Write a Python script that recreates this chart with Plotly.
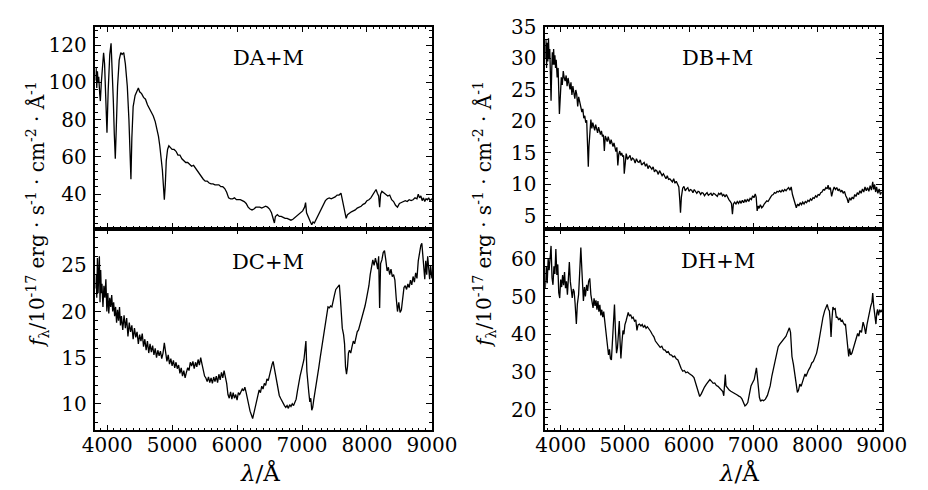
import plotly.graph_objects as go

# ---------------- data ----------------
da_wl = [3820,3830,3840,3850,3860,3870,3885,3895,3910,3930,3945,3960,3980,3997,4015,4040,4060,4075,4095,4110,
         4125,4140,4160,4185,4210,4230,4255,4280,4310,4335,4355,4366,4380,4400,4430,4460,4480,4500,4530,4560,
         4590,4620,4650,4680,4710,4740,4770,4790,4810,4830,4850,4865,4880,4895,4910,4930,4950,4975,5000,5030,
         5060,5090,5120,5150,5180,5210,5240,5270,5300,5330,5360,5390,5420,5450,5480,5510,5540,5570,5600,5630,
         5660,5690,5720,5750,5780,5810,5840,5870,5900,5930,5960,5990,6020,6050,6080,6110,6140,6170,6200,6230,
         6260,6290,6320,6350,6380,6410,6440,6470,6500,6530,6560,6575,6590,6620,6650,6680,6710,6740,6770,6800,
         6830,6860,6890,6920,6950,6980,7010,7040,7055,7070,7090,7110,7130,7150,7170,7190,7210,7240,7270,7300,
         7330,7360,7390,7420,7450,7480,7510,7540,7570,7600,7620,7640,7660,7680,7700,7730,7760,7790,7820,7850,
         7880,7910,7940,7970,8000,8030,8060,8090,8120,8140,8160,8180,8195,8210,8230,8260,8290,8320,8350,8380,
         8410,8440,8470,8500,8530,8560,8590,8620,8650,8680,8710,8740,8770,8790,8810,8830,8850,8870,8890,8910,
         8930,8950,8970,9000]
da_fl = [101,108,97,106,100,103,94,90,100,112,116,110,88,73,95,115,121,110,90,72,
         59,75,98,112,116,115,116,110,98,80,60,48,70,87,93,96,97,95,94,92,
         91,88,86,84,82,79,75,71,66,60,53,45,37,45,58,64,66,65,64,64,
         63,61,61,59,58,57,57,56,55,55.5,54,52,51,49.5,48,47,47,46,45.5,45.5,
         45,45,45,44,44,43,41,38,37.5,37.5,38,37,37,37,36.5,36,35,33,32,31.5,
         32,33,33,33,32.5,33,33.5,33,32,30,27,24.5,28,29,28,28,27.5,27,27,26.5,
         26,26.5,27.5,28.5,29,30,31,33,35.5,30,28,27,25,23.5,25,24.5,26,28,30,32,
         34.5,36.5,37.5,38,37.5,38,38.5,39.5,39.5,40.5,37,33,30,27,29,30,30.5,31,31.5,32.5,
         33,33.5,34.5,35,36.5,37,38,39.5,41,42.5,40.5,39,33,40,41.5,40.5,40,39,39.5,37,
         36,34,33,35,35.5,36,36.5,36,37,36.5,37,38,37.5,40,38,39,36.5,38,36,37.5,
         37,38,36.5,37.5]

dc_wl = [3820,3830,3840,3850,3860,3870,3880,3890,3900,3910,3920,3935,3950,3965,3980,3995,4010,4025,4040,4055,
         4070,4085,4100,4115,4130,4145,4160,4175,4190,4205,4220,4240,4260,4280,4300,4320,4340,4360,4380,4400,
         4420,4440,4460,4480,4500,4520,4540,4560,4580,4600,4620,4640,4660,4680,4700,4720,4740,4760,4780,4800,
         4820,4840,4860,4880,4900,4920,4940,4960,4980,5000,5020,5040,5060,5080,5100,5120,5140,5160,5180,5200,
         5220,5240,5260,5280,5300,5320,5340,5360,5380,5400,5420,5440,5460,5480,5500,5520,5540,5560,5580,5600,
         5620,5640,5660,5680,5700,5720,5740,5760,5780,5800,5820,5840,5860,5880,5900,5920,5940,5960,5980,6000,
         6020,6040,6060,6080,6100,6120,6140,6160,6180,6200,6220,6240,6260,6280,6300,6320,6340,6360,6380,6400,
         6420,6440,6460,6480,6500,6520,6540,6555,6570,6590,6610,6630,6650,6670,6690,6710,6730,6750,6770,6790,
         6810,6830,6850,6870,6890,6910,6930,6950,6970,6990,7010,7030,7045,7060,7075,7090,7105,7120,7135,7150,
         7165,7180,7200,7220,7240,7260,7280,7300,7320,7340,7360,7380,7400,7420,7440,7460,7480,7500,7520,7540,
         7560,7575,7590,7605,7620,7640,7655,7670,7685,7700,7715,7730,7750,7770,7790,7810,7830,7850,7870,7890,
         7910,7930,7950,7970,7990,8010,8030,8050,8070,8090,8110,8130,8150,8165,8180,8195,8210,8230,8250,8270,
         8290,8310,8330,8350,8370,8390,8410,8430,8450,8470,8490,8510,8530,8550,8570,8590,8610,8630,8650,8670,
         8690,8710,8730,8750,8770,8790,8810,8830,8845,8860,8875,8890,8905,8920,8935,8950,8965,8980,9000]
dc_fl = [22.5,24,21.5,25.8,22,23.5,26,21,24.5,22,23,20.5,22.8,21.5,23.5,20,22,19.8,21.5,20.5,
         21.8,20,21,19.5,20.5,18.8,20.2,19,20.5,18.5,19.5,18,19.6,18.2,19.3,17.3,18.8,17.8,18.5,17,
         18.2,17.2,17.8,16.5,17.5,16.8,17.6,16.2,17,15.8,16.8,15.5,16.5,15.6,16.3,15.3,16.0,15.0,15.8,15.2,
         15.7,14.9,15.5,16.6,15.2,14.6,15.3,14.3,14.9,14.1,14.7,13.9,14.5,13.8,14.2,13.3,13.9,13.0,13.6,12.8,
         13.4,13.9,13.6,14.5,14.1,14.6,13.8,14.5,14.0,14.8,14.2,15.0,14.3,13.5,13.0,12.8,12.4,12.9,12.3,12.8,
         12.2,12.9,12.4,13.0,12.3,13.2,12.6,13.4,12.8,13.6,13.0,12.2,11.0,10.6,11.3,10.5,11.2,10.6,11.0,10.4,
         11.2,11.0,11.3,11.6,11.4,11.8,11.2,10.4,10.0,9.2,8.8,8.4,9.0,9.6,10.3,10.8,11.5,11.2,11.9,11.6,
         12.2,12.0,12.7,12.5,13.2,13.6,14.3,14.6,14.0,13.0,12.2,11.4,10.9,10.6,10.3,10.0,9.8,9.6,9.8,9.5,
         9.9,9.7,10.0,9.8,10.1,10.5,11.4,12.4,13.0,13.6,14.2,14.8,15.8,16.8,13.5,11.8,11.2,10.2,10.6,9.3,
         9.6,10.4,11.2,12.0,13.0,14.0,15.0,16.0,17.0,18.0,19.0,19.8,20.5,20.4,20.6,20.5,21.0,21.8,22.4,22.6,
         22.8,22.9,21.5,19.0,18.2,17.5,16.5,14.0,13.2,14.0,15.5,15.8,15.5,16.2,16.8,16.5,17.4,17.8,18.0,18.5,
         19.0,19.5,20.0,20.6,21.3,22.0,22.8,24.0,25.0,25.6,25.0,25.8,25.2,24.6,26.0,20.4,25.2,25.6,26.4,26.6,
         25.6,24.4,24.8,24.0,24.6,23.8,24.0,23.4,21.5,20.0,21.0,19.9,20.2,21.8,22.6,22.8,22.4,23.0,22.6,23.4,
         22.9,23.8,23.2,24.2,23.6,25.5,26.5,27.2,27.4,26.0,24.2,23.5,25.5,24.0,26.0,24.2,23.5,25.0,23.6]

db_wl = [3760,3770,3780,3790,3800,3810,3820,3830,3840,3850,3860,3870,3880,3890,3900,3910,3920,3930,3945,3960,
         3980,3995,4010,4025,4040,4055,4070,4085,4100,4115,4130,4145,4160,4175,4190,4205,4220,4235,4250,4265,
         4280,4295,4310,4330,4345,4360,4375,4390,4405,4420,4430,4440,4455,4470,4485,4500,4515,4530,4545,4560,
         4575,4590,4605,4620,4635,4650,4665,4680,4695,4710,4725,4740,4755,4770,4785,4800,4815,4830,4845,4860,
         4875,4890,4905,4920,4935,4950,4965,4980,4990,5005,5020,5040,5060,5080,5100,5120,5140,5160,5180,5200,
         5220,5240,5260,5280,5300,5320,5340,5360,5380,5400,5420,5440,5460,5480,5500,5520,5540,5560,5580,5600,
         5620,5640,5660,5680,5700,5720,5740,5760,5780,5800,5820,5840,5855,5866,5880,5900,5920,5940,5960,5980,
         6000,6020,6040,6060,6080,6100,6120,6140,6160,6180,6200,6220,6240,6260,6280,6300,6320,6340,6360,6380,
         6400,6420,6440,6460,6480,6500,6520,6540,6560,6580,6600,6620,6640,6660,6675,6690,6710,6730,6750,6770,
         6790,6810,6830,6850,6870,6890,6910,6930,6950,6970,6990,7010,7030,7045,7060,7075,7090,7110,7130,7150,
         7170,7190,7210,7230,7250,7270,7290,7310,7330,7350,7370,7390,7410,7430,7450,7470,7490,7510,7530,7550,
         7570,7590,7610,7630,7650,7670,7690,7710,7730,7750,7770,7790,7810,7830,7850,7870,7890,7910,7930,7950,
         7970,7990,8010,8030,8050,8070,8090,8110,8130,8150,8165,8180,8200,8220,8240,8260,8280,8300,8320,8340,
         8360,8380,8400,8420,8440,8460,8480,8500,8520,8540,8560,8580,8600,8620,8640,8660,8680,8700,8720,8740,
         8760,8780,8800,8820,8840,8860,8875,8890,8905,8920,8940,8960,8980,9000]
db_fl = [30,33,28.5,32.5,29.5,33.2,30,31.5,27.5,23.3,28,31,29,31.5,29,30.5,28.5,29.8,27,28.5,
         21.2,25,27,25.8,28.0,26.9,26.4,27.3,25.6,26.9,26.0,25.1,26.2,24.2,25.6,24.8,23.6,25.0,24.3,22.4,
         23.9,23.2,22.6,21.5,22,20.5,20.9,19.8,20.2,16.5,12.8,16,19.3,20.3,18.9,19.8,19.2,18.6,19.5,18.9,
         18.2,19.1,18.4,17.9,18.5,17.6,17.9,15.3,17.7,17.2,16.8,17.6,16.9,16.4,17.1,16.3,16.0,16.6,15.8,15.2,
         15.9,13.0,14.8,15.3,14.6,15.0,14.5,14.6,11.7,14.3,14.9,14.0,14.4,14.6,13.8,14.2,14.0,13.4,14.1,13.6,
         13.5,13.9,13.1,13.4,13.5,12.9,13.3,12.5,13.0,12.7,12.4,12.8,12.0,12.3,12.1,11.6,12.2,11.8,11.4,11.7,
         11.3,10.9,11.4,10.8,10.9,10.6,10.4,10.9,10.2,10.5,10.1,9.6,7.5,5.5,8.0,9.4,9.7,9.0,9.3,9.5,
         8.9,9.2,9.1,8.7,9.2,8.9,8.6,8.9,8.8,8.4,8.7,8.6,8.2,8.5,8.7,8.3,8.4,8.6,8.2,8.6,
         8.5,8.3,8.1,8.6,8.4,8.7,8.2,8.4,8.0,8.4,7.9,7.6,7.3,7.0,5.3,6.9,7.2,6.9,7.3,7.0,
         7.4,7.0,7.5,7.1,7.6,7.2,7.7,7.3,7.8,7.6,8.2,7.9,8.5,8.0,5.8,6.6,6.2,6.8,6.3,6.5,
         6.9,7.1,7.4,7.3,7.8,8.0,8.3,8.4,8.7,8.6,8.9,8.8,9.0,8.8,9.1,8.9,9.2,9.0,9.3,9.5,
         9.1,9.6,8.4,7.6,7.0,6.3,6.9,6.6,7.1,6.8,7.2,6.9,7.3,7.1,7.5,7.3,7.7,7.5,7.9,7.8,
         8.2,8.0,8.4,8.3,8.7,8.8,9.2,9.1,9.5,9.3,9.9,9.2,9.5,8.1,9.0,9.6,9.2,9.5,9.0,9.3,
         8.8,9.1,8.6,8.9,8.2,7.8,7.1,7.9,7.5,8.0,7.7,8.4,8.1,8.7,8.4,9.0,8.6,9.3,8.8,9.6,
         9.0,9.5,8.9,9.8,9.1,10.4,9.2,10.0,8.8,9.6,8.6,9.3,8.4,8.8]

dh_wl = [3760,3775,3790,3805,3820,3835,3850,3865,3880,3895,3910,3925,3940,3955,3970,3985,4000,4015,4030,4045,
         4060,4075,4090,4105,4120,4135,4150,4165,4180,4195,4210,4225,4244,4260,4279,4295,4314,4330,4345,4354,
         4370,4385,4404,4420,4435,4453,4470,4485,4504,4520,4535,4550,4565,4580,4595,4610,4625,4640,4655,4670,
         4685,4700,4715,4730,4745,4760,4775,4790,4805,4820,4838,4855,4870,4885,4900,4913,4925,4938,4955,4970,
         4985,5000,5018,5035,5052,5070,5090,5110,5128,5150,5170,5188,5205,5227,5250,5270,5290,5310,5330,5350,
         5377,5400,5425,5452,5475,5500,5526,5550,5575,5600,5626,5650,5675,5700,5726,5750,5775,5800,5826,5850,
         5875,5901,5925,5950,5975,6001,6025,6050,6076,6095,6115,6140,6165,6190,6210,6240,6270,6300,6324,6350,
         6375,6399,6425,6450,6475,6500,6525,6540,6555,6564,6575,6600,6625,6650,6675,6700,6725,6750,6775,6800,
         6825,6850,6870,6890,6914,6940,6964,6990,7014,7035,7049,7065,7080,7095,7114,7135,7160,7189,7220,7245,
         7263,7290,7315,7338,7360,7388,7410,7435,7463,7490,7510,7523,7545,7562,7580,7602,7625,7652,7670,7687,
         7705,7725,7745,7762,7785,7805,7820,7837,7860,7885,7911,7935,7960,7986,8010,8035,8061,8085,8111,8130,
         8151,8170,8185,8198,8211,8225,8240,8258,8275,8293,8311,8330,8350,8366,8386,8405,8420,8435,8450,8470,
         8486,8500,8518,8536,8560,8585,8605,8625,8645,8660,8685,8710,8730,8750,8770,8790,8810,8830,8848,8860,
         8875,8893,8910,8922,8935,8950,8968,8985,9000]
dh_fl = [52,58,53.5,60,57,61.5,63.4,55,53.1,58,56,62.6,55.7,58.5,51,49.6,54.5,52.5,55.7,53,
         56.5,52.2,54,50.5,55,59.1,54,51,49.6,52,51.3,48,42.7,48,50.5,56,63,57,52,48.8,
         52.5,50,53.1,51.5,54,54.8,50.5,48.5,47,49.5,47.5,49,46.5,48.8,46,47.8,45,46.5,44.5,46,
         43.5,42.7,40,36.5,34.5,36,33.5,33.2,38,43,47.9,40,35,36.5,41.5,43.5,38,33.6,38,41,
         40,42.5,43.5,44.5,45.8,44.8,45.2,44.2,44.5,43.5,43.8,41,42.5,42.7,42.2,42.6,41.8,42.3,41.6,42.0,
         41.5,40.8,40.0,39.3,38.2,37.6,37.1,36.5,36.8,35.9,35.8,35.2,35.4,34.6,34.5,34.0,34.2,33.5,33.2,32.0,
         31.0,30.2,30.4,29.8,30.0,29.6,29.4,29.0,28.5,27.5,26.3,24.8,23.5,24.2,25.0,26.0,26.8,27.5,28.0,27.5,
         27.0,27.1,26.4,26.2,25.8,25.4,24.8,23.7,27.0,29.3,26.3,25.6,25.2,24.9,24.7,24.5,24.2,23.9,23.6,23.4,
         22.8,21.6,21.0,21.3,21.9,24.2,26.3,27.2,28.0,29.8,31.1,28.5,25.0,23.3,22.2,22.6,22.4,22.8,23.8,25.3,
         26.3,29.0,31.0,33.2,34.8,36.7,37.3,37.8,38.4,39.0,39.5,40.1,41.0,41.7,40.5,34.1,32.0,28.9,25.5,24.6,
         25.2,26.8,26.2,27.2,28.0,29.5,28.8,29.8,30.5,31.2,32.4,32.8,34.0,35.0,37.0,39.5,42.7,44.5,46.2,47.2,
         47.9,46.6,46.2,43.5,39.3,44,47.2,46.6,46.8,44.5,44.5,43.8,44.3,43.5,43.7,43.0,42.5,42.7,40.0,35.5,
         34.1,36.2,34.5,35.0,36.5,38.4,39.0,40.2,39.5,41.0,40.5,43.2,42.0,40.1,42.5,44.5,46.2,47.5,48.5,50.9,
         47.5,44.8,42.7,45.5,46.6,45.0,46.5,45.8,46.5]

panel_labels = ["DA+M", "DC+M", "DB+M", "DH+M"]
y_title = ("<i>f</i><sub>λ</sub>/10<sup>-17</sup> erg · s<sup>-1</sup> · cm<sup>-2</sup> · Å<sup>-1</sup>")
x_title = "<i>λ</i>/Å"

# ---------------- figure ----------------
W, H = 928, 490
FONT = "DejaVu Serif"
fig = go.Figure()
series = [(da_wl, da_fl, "x", "y"), (dc_wl, dc_fl, "x2", "y2"),
          (db_wl, db_fl, "x3", "y3"), (dh_wl, dh_fl, "x4", "y4")]
for wl, fl, xa, ya in series:
    fig.add_trace(go.Scatter(x=wl, y=fl, mode="lines", xaxis=xa, yaxis=ya,
                             line=dict(color="black", width=1.3), showlegend=False,
                             hoverinfo="skip"))

def px_dom(a, b, total):
    return [a / total, b / total]

xl = px_dom(86, 437, W)
xr = px_dom(555, 906, W)
ytop = [1 - 222 / H, 1 - 15 / H]
ybot = [1 - 429 / H, 1 - 222 / H]

common = dict(showline=True, linecolor="black", linewidth=1.5, mirror="ticks",
              ticks="inside", ticklen=6, tickwidth=1, tickcolor="black",
              showgrid=False, zeroline=False,
              tickfont=dict(family=FONT, size=20, color="black"))

def xaxis(dom, anchor, rng, labels):
    d = dict(common)
    d.update(domain=dom, anchor=anchor, range=rng, dtick=1000, tick0=0,
             showticklabels=labels, ticklabelstandoff=-4,
             minor=dict(dtick=100, tick0=0, ticks="inside", ticklen=3, tickcolor="black"))
    return d

def yaxis(dom, anchor, rng, dt, mdt):
    d = dict(common)
    d.update(domain=dom, anchor=anchor, range=rng, dtick=dt, tick0=0,
             ticklabelstandoff=3,
             minor=dict(dtick=mdt, tick0=0, ticks="inside", ticklen=3, tickcolor="black"))
    return d

fig.update_layout(
    width=W, height=H, autosize=False,
    margin=dict(l=0, r=0, t=0, b=0),
    paper_bgcolor="white", plot_bgcolor="white",
    xaxis=xaxis(xl, "y", [3820, 9003], False),
    yaxis=yaxis(ytop, "x", [21.5, 130], 20, 4),
    xaxis2=xaxis(xl, "y2", [3820, 9003], True),
    yaxis2=yaxis(ybot, "x2", [7.1, 29], 5, 1),
    xaxis3=xaxis(xr, "y3", [3760, 9003], False),
    yaxis3=yaxis(ytop, "x3", [3, 35.05], 5, 1),
    xaxis4=xaxis(xr, "y4", [3760, 9003], True),
    yaxis4=yaxis(ybot, "x4", [14.5, 68], 10, 2),
)

ann = []
label_pos = [("x", "y", 0.845), ("x2", "y2", 0.836), ("x3", "y3", 0.845), ("x4", "y4", 0.84)]
for (xa, ya, yy), lab in zip(label_pos, panel_labels):
    ann.append(dict(text=lab, xref=xa + " domain", yref=ya + " domain", x=0.513, y=yy,
                    xanchor="center", yanchor="middle", showarrow=False,
                    font=dict(family=FONT, size=21, color="black")))
for xc in (26, 492):
    ann.append(dict(text=y_title, xref="paper", yref="paper", x=xc / W, y=1 - 207 / H,
                    textangle=-90, xanchor="center", yanchor="middle", showarrow=False,
                    font=dict(family=FONT, size=20, color="black")))
for xc in (258, 757):
    ann.append(dict(text=x_title, xref="paper", yref="paper", x=xc / W, y=1 - 472 / H,
                    xanchor="center", yanchor="middle", showarrow=False,
                    font=dict(family=FONT, size=23, color="black")))
fig.update_layout(annotations=ann)

fig.write_html("out.html")
